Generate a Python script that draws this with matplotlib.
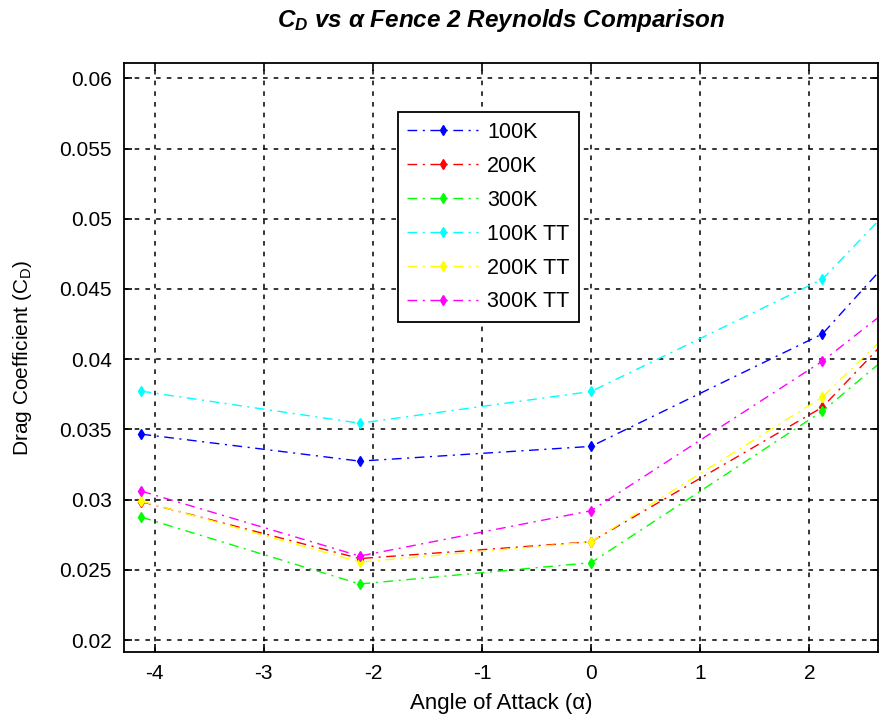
import matplotlib
matplotlib.use('Agg')
import matplotlib.pyplot as plt

plt.rcParams['font.family'] = ['Liberation Sans', 'DejaVu Sans']
plt.rcParams['axes.unicode_minus'] = False
plt.rcParams['mathtext.fontset'] = 'custom'
plt.rcParams['mathtext.rm'] = 'Liberation Sans'
plt.rcParams['mathtext.it'] = 'Liberation Sans:italic'
plt.rcParams['mathtext.bf'] = 'Liberation Sans:bold:italic'

# data
alpha = [-4.12, -2.12, 0.0, 2.12, 4.13]
labels = ['100K', '200K', '300K', '100K TT', '200K TT', '300K TT']
colors = ['#0000ff', '#ff0000', '#00ff00', '#00ffff', '#ffff00', '#ff00ff']
cd_100k = [0.03466, 0.03274, 0.03379, 0.0418, 0.0590]
cd_200k = [0.02985, 0.02580, 0.02700, 0.03658, 0.0530]
cd_300k = [0.02875, 0.02399, 0.02551, 0.0363, 0.0494]
cd_100k_tt = [0.03772, 0.03544, 0.0377, 0.0457, 0.0620]
cd_200k_tt = [0.02989, 0.02555, 0.02699, 0.0373, 0.0525]
cd_300k_tt = [0.0306, 0.02598, 0.02921, 0.03986, 0.0521]
series = [cd_100k, cd_200k, cd_300k, cd_100k_tt, cd_200k_tt, cd_300k_tt]

fig = plt.figure(figsize=(8.82, 7.17), dpi=100)
ax = fig.add_axes([0.1406, 0.0907, 0.855, 0.821])

for s, lab, c in zip(series, labels, colors):
    ax.plot(alpha, s, linestyle=(0, (7, 4, 1.5, 4)), color=c, marker='d', markersize=5,
            linewidth=1.0, label=lab)

ax.set_xlim(-4.28, 2.63)
ax.set_ylim(0.01915, 0.06107)
ax.set_xticks([-4, -3, -2, -1, 0, 1, 2])
ax.set_yticks([0.02, 0.025, 0.03, 0.035, 0.04, 0.045, 0.05, 0.055, 0.06])
ax.set_yticklabels(['0.02', '0.025', '0.03', '0.035', '0.04', '0.045', '0.05', '0.055', '0.06'])
ax.tick_params(direction='in', top=True, right=True, labelsize=15, length=6, width=1.2, pad=9)
ax.grid(True, color='black', linestyle=(0, (3, 4)), linewidth=1.1)
for sp in ax.spines.values():
    sp.set_linewidth(1.3)

ax.set_xlabel('Angle of Attack (α)', fontsize=16, labelpad=7)
ax.set_ylabel(r'Drag Coefficient (C$_{\mathrm{D}}$)', fontsize=15, labelpad=18)
ax.set_title(r'$\mathbf{C}_{\mathbf{D}}$ vs α Fence 2 Reynolds Comparison', fontsize=17.5,
             fontweight='bold', fontstyle='italic', pad=26)

leg = ax.legend(loc='upper left', bbox_to_anchor=(0.363, 0.917), fontsize=15.5,
                handlelength=3.3, fancybox=False, framealpha=1, edgecolor='black',
                borderpad=0.45, labelspacing=0.6, handletextpad=0.4, borderaxespad=0)
leg.get_frame().set_linewidth(1.3)

fig.savefig('out.png', dpi=100)
